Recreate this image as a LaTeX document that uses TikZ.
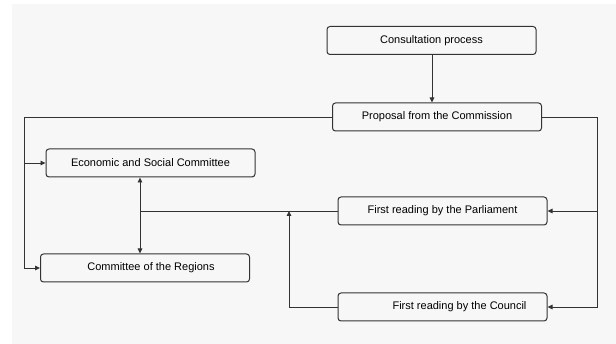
\documentclass[tikz,border=0pt]{standalone}
\usepackage{fontspec}
\setmainfont{Liberation Sans}
\usetikzlibrary{arrows.meta}
\definecolor{linegray}{HTML}{333333}
\definecolor{paper}{HTML}{F7F7F7}
\tikzset{
  box/.style={draw=linegray, line width=1pt, rounded corners=3pt, minimum width=209pt,
    minimum height=28pt, inner sep=0pt, font=\fontsize{11}{13}\selectfont},
  arr/.style={-{Triangle[length=5pt, width=4.5pt]}, draw=linegray, line width=0.9pt},
  dblarr/.style={{Triangle[length=5pt, width=4.5pt]}-{Triangle[length=5pt, width=4.5pt]},
    draw=linegray, line width=0.9pt},
  wire/.style={draw=linegray, line width=0.9pt},
}

\begin{document}
\begin{tikzpicture}[x=1pt, y=-1pt]
    % page and grey paper
    \fill[white] (0,0) rectangle (616,344);
    \fill[paper] (12,4) rectangle (616,344);
    \useasboundingbox (0,0) rectangle (616,344);

    \node[box] (cons) at (431.5,40.5) {Consultation process};
    \node[box] (prop) at (437,117) {Proposal from the Commission};
    \node[box] (esc) at (150.5,163) {Economic and Social Committee};
    \node[box] (cor) at (145,268) {\hspace*{12pt}Committee of the Regions};
    \node[box] (par) at (442.5,211) {First reading by the Parliament};
    \node[box] (cou) at (442.5,307) {\hspace*{34pt}First reading by the Council};

    \coordinate (westbus) at (24,0);
    \coordinate (eastbus) at (597,0);
    \coordinate (join) at (140,211);
    \coordinate (up) at (289,211);

    \draw[arr] (cons.south -| 432,0) -- (prop.north -| 432,0);
    % to the committees
    \draw[arr] (prop.west) -| (westbus |- cor.west) -- (cor.west);
    \draw[arr] (westbus |- esc.west) -- (esc.west);
    % to the readings
    \draw[arr] (prop.east) -| (eastbus |- cou.east) -- (cou.east);
    \draw[arr] (eastbus |- par.east) -- (par.east);
    % opinions back
    \draw[wire] (par.west) -- (join);
    \draw[dblarr] (esc.south -| join) -- (cor.north -| join);
    \draw[arr] (cou.west) -| (up);
\end{tikzpicture}
\end{document}
